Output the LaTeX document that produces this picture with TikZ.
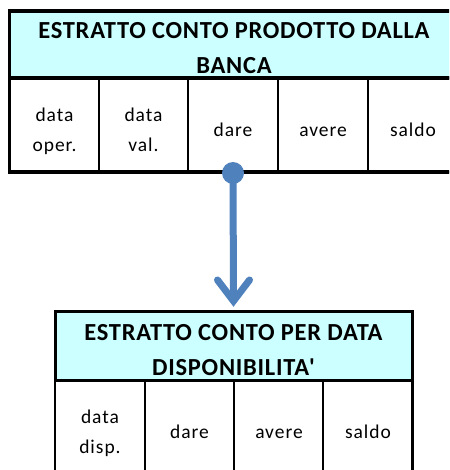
\documentclass[tikz,border=0pt]{standalone}
\usepackage{fontspec}
\setmainfont{Carlito}
\usetikzlibrary{calc}
\definecolor{hdr}{HTML}{CCFFFF}
\definecolor{arr}{HTML}{4F81BD}
\newcommand{\cl}[1]{\strut#1}
\begin{document}
\begin{tikzpicture}[x=1pt,y=-1pt,
  title/.style={draw=black,line width=3.5pt,fill=hdr,inner sep=0pt},
  ttext/.style={inner sep=0pt,align=center,
    font=\fontsize{24.5}{35}\selectfont\bfseries\addfontfeatures{LetterSpace=3}},
  cell/.style={draw=black,line width=2pt,fill=white,inner sep=0pt,minimum width=89.5pt},
  ctext/.style={inner sep=0pt,align=center,
    font=\fontsize{19.5}{30.7}\selectfont\addfontfeatures{LetterSpace=5}},
  frame/.style={draw=black,line width=3.5pt},
  conn/.style={arr,line width=7pt}
]
\useasboundingbox (0,0) rectangle (449,470);
\clip (0,0) rectangle (449,470);
% top table
\node[title,minimum width=449pt,minimum height=67pt] (t1) at (234,44.5) {};
\node[ttext] (t1t) at ([yshift=-4pt]t1.center) {ESTRATTO CONTO PRODOTTO DALLA\\BANCA};
\foreach \n/\x/\t in {a1/54.5/{\cl{data}\\\cl{oper.}},a2/143.5/{\cl{data}\\\cl{val.}},a3/233/\cl{dare},a4/323/\cl{avere},a5/413/\cl{saldo}}{
  \node[cell,minimum height=94pt] (\n) at (\x,125) {};
  \node[ctext] (\n t) at ($(\n.center)+(0,5.5)$) {\t};
}
\draw[frame] (9.5,78) -- (9.5,172) -- (470,172);
\draw[frame] (9.5,78) -- (470,78);
% bottom table
\node[title,line width=3pt,minimum width=357pt,minimum height=69pt] (t2) at (233.5,346) {};
\node[ttext] (t2t) at ([yshift=-4pt]t2.center) {ESTRATTO CONTO PER DATA\\DISPONIBILITA\textquotesingle};
\foreach \n/\x/\t in {b1/100/{\cl{data}\\\cl{disp.}},b2/189.5/\cl{dare},b3/279/\cl{avere},b4/368/\cl{saldo}}{
  \node[cell,minimum height=100pt] (\n) at (\x,430.5) {};
  \node[ctext] (\n t) at ($(\n.center)+(0,1.8)$) {\t};
}
\draw[frame,line width=3pt] (55,380.5) -- (412,380.5);
\draw[line width=2.5pt] (55,380.5) -- (55,480) (412,380.5) -- (412,480);
% connector
\coordinate (s) at (a3.south);
\coordinate (e) at (t2.north);
\fill[arr] (s) circle (11pt);
\draw[conn] (s) -- ($(e)+(0,-10)$);
\draw[conn,line cap=round,line join=miter,miter limit=10] ($(e)+(-16,-30)$) -- ($(e)+(0,-9)$) -- ($(e)+(16,-30)$);
\end{tikzpicture}
\end{document}
